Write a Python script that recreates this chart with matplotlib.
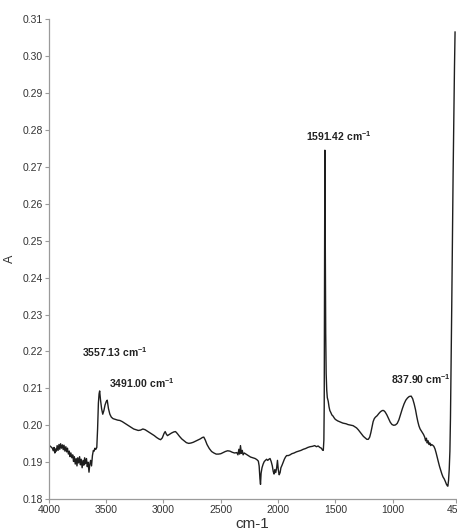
import matplotlib
matplotlib.use('Agg')
import matplotlib.pyplot as plt
import numpy as np

plt.rcParams['font.family'] = ['Liberation Sans Narrow', 'Liberation Sans', 'DejaVu Sans']
plt.rcParams['mathtext.default'] = 'regular'

# FTIR spectrum (wavenumber cm-1, absorbance)
wavenumber = [
    4000, 3990, 3980, 3970, 3962, 3955, 3948, 3942, 3935, 3928, 3920, 3912, 3905,
    3898, 3890, 3882, 3875, 3868, 3860, 3852, 3845, 3838, 3830, 3822, 3815, 3808,
    3800, 3792, 3785, 3778, 3770, 3762, 3755, 3748, 3740, 3732, 3725, 3718, 3710,
    3702, 3695, 3688, 3680, 3672, 3665, 3658, 3650, 3643, 3636, 3628, 3620, 3612,
    3605, 3598, 3590, 3582, 3575, 3568, 3562, 3557, 3550, 3540, 3530, 3520, 3510,
    3500, 3491, 3480, 3468, 3455, 3440, 3420, 3400, 3380, 3360, 3340, 3320, 3300,
    3280, 3260, 3240, 3220, 3200, 3180, 3160, 3140, 3120, 3100, 3080, 3060, 3040,
    3025, 3010, 2995, 2985, 2975, 2965, 2950, 2930, 2910, 2895, 2880, 2860, 2840,
    2820, 2800, 2780, 2760, 2740, 2720, 2700, 2680, 2660, 2648, 2635, 2620, 2600,
    2580, 2560, 2540, 2520, 2500, 2480, 2460, 2440, 2420, 2400, 2380, 2360, 2350,
    2342, 2335, 2328, 2320, 2312, 2305, 2295, 2280, 2260, 2240, 2220, 2200, 2185,
    2172, 2165, 2158, 2153, 2148, 2140, 2130, 2120, 2110, 2100, 2090, 2080, 2070,
    2060, 2050, 2042, 2035, 2028, 2020, 2012, 2005, 1998, 1990, 1982, 1975, 1965,
    1955, 1945, 1935, 1925, 1910, 1895, 1880, 1860, 1840, 1820, 1800, 1780, 1760,
    1740, 1720, 1700, 1680, 1665, 1650, 1635, 1622, 1612, 1605, 1600, 1597, 1594,
    1591.4, 1588, 1584, 1580, 1575, 1570, 1562, 1555, 1548, 1540, 1530, 1520, 1510,
    1500, 1490, 1480, 1465, 1450, 1435, 1420, 1405, 1390, 1375, 1360, 1345, 1330,
    1315, 1300, 1285, 1270, 1255, 1240, 1225, 1212, 1200, 1190, 1180, 1170, 1160,
    1150, 1135, 1120, 1105, 1090, 1078, 1065, 1050, 1035, 1020, 1005, 990, 975,
    960, 945, 930, 915, 900, 885, 870, 855, 838, 825, 812, 800, 790, 780, 770, 760,
    750, 740, 730, 720, 712, 705, 698, 690, 682, 675, 668, 660, 650, 640, 630, 620,
    610, 600, 590, 580, 570, 560, 550, 540, 530, 522, 518, 512, 506, 500, 495, 490,
    484, 478, 472, 466, 460, 455,
]
absorbance = [
    0.1943, 0.1944, 0.1941, 0.1938, 0.1931, 0.1940, 0.1925, 0.1936, 0.1930, 0.1945,
    0.1932, 0.1948, 0.1935, 0.1950, 0.1938, 0.1947, 0.1934, 0.1946, 0.1930, 0.1942,
    0.1928, 0.1938, 0.1922, 0.1930, 0.1915, 0.1925, 0.1912, 0.1920, 0.1902, 0.1915,
    0.1895, 0.1910, 0.1890, 0.1912, 0.1898, 0.1915, 0.1893, 0.1908, 0.1885, 0.1905,
    0.1892, 0.1912, 0.1896, 0.1910, 0.1888, 0.1900, 0.1873, 0.1895, 0.1905, 0.1890,
    0.1918, 0.1932, 0.1930, 0.1938, 0.1935, 0.1940, 0.1990, 0.2060, 0.2085, 0.2093,
    0.2070, 0.2045, 0.2030, 0.2040, 0.2055, 0.2064, 0.2068, 0.2045, 0.2030, 0.2022,
    0.2018, 0.2016, 0.2014, 0.2013, 0.2010, 0.2006, 0.2002, 0.1998, 0.1994, 0.1990,
    0.1988, 0.1986, 0.1987, 0.1990, 0.1988, 0.1984, 0.1980, 0.1976, 0.1972, 0.1967,
    0.1963, 0.1961, 0.1966, 0.1978, 0.1983, 0.1976, 0.1972, 0.1975, 0.1979, 0.1982,
    0.1983, 0.1978, 0.1970, 0.1963, 0.1958, 0.1953, 0.1951, 0.1952, 0.1954, 0.1957,
    0.1960, 0.1963, 0.1967, 0.1968, 0.1960, 0.1948, 0.1937, 0.1929, 0.1925, 0.1922,
    0.1922, 0.1923, 0.1926, 0.1929, 0.1931, 0.1930, 0.1927, 0.1925, 0.1926, 0.1920,
    0.1935, 0.1922, 0.1945, 0.1924, 0.1932, 0.1920, 0.1925, 0.1922, 0.1918, 0.1914,
    0.1912, 0.1910, 0.1907, 0.1903, 0.1890, 0.1855, 0.1840, 0.1870, 0.1885, 0.1895,
    0.1902, 0.1905, 0.1908, 0.1905, 0.1908, 0.1910, 0.1902, 0.1890, 0.1875, 0.1868,
    0.1880, 0.1872, 0.1885, 0.1905, 0.1880, 0.1866, 0.1872, 0.1885, 0.1892, 0.1900,
    0.1908, 0.1914, 0.1918, 0.1918, 0.1920, 0.1923, 0.1925, 0.1928, 0.1930, 0.1932,
    0.1935, 0.1937, 0.1940, 0.1942, 0.1943, 0.1945, 0.1942, 0.1944, 0.1940, 0.1938,
    0.1933, 0.1932, 0.1960, 0.2050, 0.2400, 0.2745, 0.2500, 0.2250, 0.2140, 0.2095,
    0.2075, 0.2065, 0.2050, 0.2040, 0.2035, 0.2028, 0.2025, 0.2020, 0.2016, 0.2014,
    0.2012, 0.2010, 0.2008, 0.2006, 0.2005, 0.2004, 0.2002, 0.2001, 0.2000, 0.1999,
    0.1996, 0.1993, 0.1988, 0.1982, 0.1976, 0.1970, 0.1966, 0.1962, 0.1962, 0.1968,
    0.1980, 0.1995, 0.2010, 0.2018, 0.2022, 0.2026, 0.2032, 0.2037, 0.2040, 0.2040,
    0.2036, 0.2028, 0.2018, 0.2008, 0.2002, 0.2000, 0.2001, 0.2005, 0.2015, 0.2030,
    0.2045, 0.2058, 0.2068, 0.2074, 0.2078, 0.2079, 0.2072, 0.2058, 0.2042, 0.2025,
    0.2010, 0.1998, 0.1990, 0.1985, 0.1980, 0.1975, 0.1968, 0.1958, 0.1965, 0.1952,
    0.1958, 0.1948, 0.1952, 0.1945, 0.1948, 0.1946, 0.1943, 0.1936, 0.1925, 0.1912,
    0.1900, 0.1888, 0.1878, 0.1868, 0.1860, 0.1855, 0.1848, 0.1840, 0.1836, 0.1835,
    0.1850, 0.1880, 0.1930, 0.2020, 0.2150, 0.2320, 0.2500, 0.2680, 0.2830, 0.2970,
    0.3065,
]

# peak labels: text, x, y (data coords)
peak_labels = ['3557.13 cm$^{-1}$', '3491.00 cm$^{-1}$', '1591.42 cm$^{-1}$', '837.90 cm$^{-1}$']
label_x = [3425, 3186, 1474, 749]
label_y = [0.2197, 0.2115, 0.2782, 0.2124]

xticks = [4000, 3500, 3000, 2500, 2000, 1500, 1000, 450]
yticks = np.round(np.arange(0.18, 0.3101, 0.01), 2)

fig = plt.figure(figsize=(4.57, 5.31), dpi=100)
ax = fig.add_axes([0.107, 0.06, 0.890, 0.904])

ax.plot(wavenumber, absorbance, color='#1e1e1e', lw=1.0)

for txt, x, y in zip(peak_labels, label_x, label_y):
    ax.text(x, y, txt, ha='center', va='center', fontsize=7.5,
            fontweight='bold', color='#222222')

ax.set_xlim(4000, 450)
ax.set_ylim(0.18, 0.31)
ax.set_xticks(xticks)
ax.set_xticklabels([str(t) for t in xticks])
ax.set_yticks(yticks)
ax.set_yticklabels(['%.2f' % t for t in yticks])

for side in ['top', 'right']:
    ax.spines[side].set_visible(False)
for side in ['left', 'bottom']:
    ax.spines[side].set_color('#9a9a9a')
    ax.spines[side].set_linewidth(0.9)
ax.tick_params(axis='both', colors='#9a9a9a', length=3, width=0.8,
               labelcolor='#333333', labelsize=7.5, pad=1.5)

ax.set_xlabel('cm-1', fontsize=11, color='#333333', labelpad=1,
              family=['Liberation Sans', 'DejaVu Sans'])
ax.set_ylabel('A', fontsize=9, color='#333333')
ax.yaxis.set_label_coords(-0.08, 0.5)

fig.savefig('out.png', dpi=100)
